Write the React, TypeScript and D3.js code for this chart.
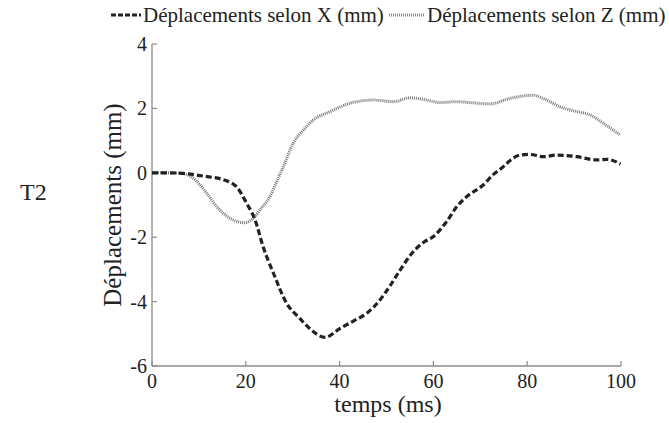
import React from "react";
import * as d3 from "d3";

const seriesXt = [0, 3, 6.6, 10.9, 15.9, 18, 20.2, 22, 23.7, 25.9, 28.7, 31.5, 33.5, 36.9, 40.1, 43, 45.8, 48.6, 50.8, 52.9, 55.7, 58, 60, 62.8, 65, 67.1, 70.6, 72.8, 74.9, 76.5, 78.5, 80.6, 83.4, 86.3, 90.6, 94.8, 97, 99.9];
const seriesXv = [0, 0, -0.02, -0.1, -0.25, -0.43, -0.95, -1.47, -2.3, -3.12, -4.05, -4.52, -4.82, -5.11, -4.83, -4.6, -4.36, -3.95, -3.5, -3.02, -2.45, -2.15, -1.98, -1.52, -1.05, -0.74, -0.38, -0.05, 0.19, 0.4, 0.55, 0.57, 0.5, 0.55, 0.5, 0.4, 0.42, 0.27];
const seriesZt = [0, 3, 6.6, 8.8, 11.7, 13.8, 16.6, 19.8, 21.6, 23.3, 25, 26.5, 28, 30.1, 32.3, 34.4, 38, 42.2, 47.2, 51.5, 55, 58.6, 61.4, 65, 67.8, 72.1, 76.3, 81.3, 83.4, 87, 90.6, 93.4, 96.2, 99.9];
const seriesZv = [0, 0, -0.02, -0.17, -0.64, -1.05, -1.41, -1.55, -1.41, -1.1, -0.78, -0.3, 0.19, 0.92, 1.33, 1.64, 1.9, 2.16, 2.26, 2.21, 2.33, 2.26, 2.18, 2.21, 2.18, 2.14, 2.31, 2.41, 2.31, 2.05, 1.9, 1.8, 1.54, 1.17];
const xTicks = [0, 20, 40, 60, 80, 100];
const yTicks = [-6, -4, -2, 0, 2, 4];
const legendLabels = ["Déplacements selon X (mm)", "Déplacements selon Z (mm)"];

const W = 669, H = 423;
const FONT = "Liberation Serif";

export default function App() {
  const x = d3.scaleLinear().domain([0, 100]).range([152, 621]);
  const y = d3.scaleLinear().domain([-6, 4]).range([366, 44]);
  const line = d3.line<[number, number]>().x(d => x(d[0])).y(d => y(d[1])).curve(d3.curveMonotoneX);
  const dX = line(seriesXt.map((t, i) => [t, seriesXv[i]] as [number, number])) || "";
  const dZ = line(seriesZt.map((t, i) => [t, seriesZv[i]] as [number, number])) || "";
  const axisColor = "#8a8a8a";
  const ts = { fontFamily: FONT };
  return (
    <svg width={W} height={H} style={{ position: "absolute", left: 0, top: 0, background: "#fff" }}>
      <rect width={W} height={H} fill="#fff" />
      {/* legend */}
      <line x1={111} x2={141} y1={15} y2={15} stroke="#222" strokeWidth={3} strokeDasharray="5,2" />
      <text x={143} y={22} fontSize={21} fill="#222" style={ts}>{legendLabels[0]}</text>
      <line x1={389} x2={424} y1={15} y2={15} stroke="#888" strokeWidth={3} strokeDasharray="1,1" />
      <text x={427} y={22} fontSize={21} fill="#222" style={ts}>{legendLabels[1]}</text>
      {/* axes */}
      <line x1={x(0)} x2={x(100)} y1={y(-6)} y2={y(-6)} stroke={axisColor} strokeWidth={1.3} />
      <line x1={x(0)} x2={x(0)} y1={y(-6)} y2={y(4)} stroke={axisColor} strokeWidth={1.3} />
      {xTicks.map(t => (
        <g key={"xt" + t}>
          <line x1={x(t)} x2={x(t)} y1={y(-6)} y2={y(-6) - 5} stroke={axisColor} strokeWidth={1.2} />
          <text x={x(t)} y={y(-6) + 22} fontSize={20} textAnchor="middle" fill="#222" style={ts}>{t}</text>
        </g>
      ))}
      {yTicks.map(v => (
        <g key={"yt" + v}>
          <line x1={x(0)} x2={x(0) + 5} y1={y(v)} y2={y(v)} stroke={axisColor} strokeWidth={1.2} />
          <text x={x(0) - 5} y={y(v) + 7} fontSize={20} textAnchor="end" fill="#222" style={ts}>{v}</text>
        </g>
      ))}
      {/* series */}
      <path d={dZ} fill="none" stroke="#777" strokeWidth={3} strokeDasharray="1,1" />
      <path d={dX} fill="none" stroke="#222" strokeWidth={3.2} strokeDasharray="6,3" />
      {/* labels */}
      <text x={388} y={412} fontSize={24} textAnchor="middle" fill="#222" style={ts}>temps (ms)</text>
      <text transform={`translate(121,205) rotate(-90)`} fontSize={25} textAnchor="middle" fill="#222" style={ts}>Déplacements (mm)</text>
      <text x={20} y={200} fontSize={24} fill="#222" style={ts}>T2</text>
    </svg>
  );
}
